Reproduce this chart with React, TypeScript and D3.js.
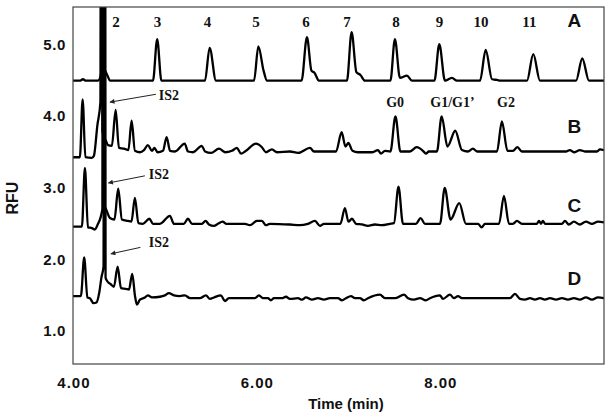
import React from "react";
import * as d3 from "d3";

// electropherogram traces, [time (min), RFU] vertices
const traceA: [number, number][] = [
  [3.99, 4.5], [4.065, 4.5], [4.098, 4.52], [4.131, 4.5], [4.262, 4.5], [4.301, 4.62],
  [4.312, 20], [4.323, 4.66], [4.34, 4.64], [4.355, 4.6], [4.37, 4.56], [4.393, 4.5],
  [4.862, 4.5], [4.908, 5.08], [4.954, 4.5],
  [5.429, 4.5], [5.48, 4.96], [5.549, 4.5],
  [5.964, 4.5], [6.011, 4.98], [6.068, 4.64], [6.106, 4.5],
  [6.482, 4.5], [6.541, 5.11], [6.59, 4.64], [6.623, 4.61], [6.672, 4.5],
  [6.977, 4.5], [7.028, 5.18], [7.08, 4.62], [7.124, 4.58], [7.173, 4.5],
  [7.451, 4.5], [7.5, 5.08], [7.555, 4.54], [7.631, 4.57], [7.686, 4.5],
  [7.931, 4.5], [7.984, 5.01], [8.046, 4.5], [8.122, 4.54], [8.177, 4.5],
  [8.428, 4.5], [8.49, 4.93], [8.559, 4.52], [8.613, 4.51], [8.656, 4.5],
  [8.94, 4.5], [9.009, 4.87], [9.082, 4.5],
  [9.475, 4.5], [9.543, 4.81], [9.616, 4.5], [9.78, 4.5],
];

const traceB: [number, number][] = [
  [3.99, 3.43], [4.065, 3.43], [4.095, 4.24], [4.125, 3.43], [4.196, 3.42], [4.218, 3.45],
  [4.256, 3.88], [4.289, 4.2], [4.3, 20], [4.311, 3.8], [4.33, 3.7], [4.349, 3.66],
  [4.371, 3.6], [4.414, 3.59], [4.455, 4.09], [4.491, 3.56], [4.545, 3.55], [4.594, 3.53],
  [4.629, 3.94], [4.665, 3.52], [4.72, 3.5], [4.764, 3.53], [4.807, 3.6], [4.851, 3.52],
  [4.878, 3.56], [4.911, 3.5], [4.971, 3.52], [5.011, 3.71], [5.048, 3.52], [5.102, 3.51],
  [5.208, 3.62], [5.244, 3.51], [5.299, 3.5], [5.394, 3.59], [5.43, 3.51], [5.495, 3.49],
  [5.582, 3.55], [5.648, 3.5], [5.723, 3.52], [5.778, 3.56], [5.822, 3.48], [5.876, 3.52],
  [5.985, 3.62], [6.05, 3.57], [6.094, 3.5], [6.159, 3.54], [6.214, 3.5], [6.356, 3.51],
  [6.443, 3.49], [6.574, 3.56], [6.618, 3.51], [6.858, 3.51], [6.919, 3.78], [6.961, 3.58],
  [6.993, 3.63], [7.037, 3.52], [7.097, 3.5], [7.25, 3.5], [7.315, 3.53], [7.348, 3.48],
  [7.391, 3.52], [7.451, 3.51], [7.506, 4.0], [7.56, 3.51], [7.664, 3.51], [7.737, 3.57],
  [7.806, 3.52], [7.838, 3.48], [7.871, 3.51], [7.958, 3.51], [8.01, 4.0], [8.073, 3.58],
  [8.158, 3.8], [8.231, 3.53], [8.296, 3.51], [8.351, 3.55], [8.395, 3.51], [8.613, 3.51],
  [8.667, 3.93], [8.727, 3.52], [8.787, 3.52], [8.836, 3.57], [8.885, 3.51], [9.365, 3.51],
  [9.408, 3.53], [9.452, 3.5], [9.517, 3.53], [9.572, 3.51], [9.703, 3.51], [9.736, 3.54],
  [9.78, 3.53],
];

const traceC: [number, number][] = [
  [3.99, 2.46], [4.087, 2.46], [4.12, 3.28], [4.153, 2.45], [4.196, 2.44], [4.229, 2.42],
  [4.256, 2.48], [4.31, 2.7], [4.321, 20], [4.332, 2.75], [4.345, 2.72], [4.393, 2.58],
  [4.442, 2.56], [4.483, 2.99], [4.523, 2.56], [4.589, 2.54], [4.627, 2.53], [4.665, 2.86],
  [4.703, 2.51], [4.752, 2.5], [4.823, 2.57], [4.862, 2.5], [4.938, 2.5], [5.047, 2.61],
  [5.09, 2.5], [5.199, 2.5], [5.243, 2.57], [5.287, 2.5], [5.396, 2.5], [5.436, 2.54],
  [5.472, 2.49], [5.527, 2.47], [5.57, 2.5], [5.622, 2.53], [5.659, 2.5], [5.865, 2.5],
  [5.919, 2.48], [5.996, 2.54], [6.05, 2.54], [6.094, 2.48], [6.137, 2.5], [6.356, 2.49],
  [6.465, 2.48], [6.552, 2.5], [6.628, 2.54], [6.683, 2.47], [6.726, 2.5], [6.906, 2.5],
  [6.955, 2.72], [6.993, 2.53], [7.032, 2.57], [7.076, 2.5], [7.141, 2.49], [7.206, 2.47],
  [7.282, 2.49], [7.359, 2.48], [7.446, 2.5], [7.49, 2.51], [7.539, 3.02], [7.588, 2.5],
  [7.73, 2.5], [7.781, 2.58], [7.828, 2.5], [7.992, 2.5], [8.043, 3.0], [8.107, 2.56],
  [8.202, 2.79], [8.275, 2.5], [8.406, 2.5], [8.446, 2.45], [8.482, 2.5], [8.635, 2.5],
  [8.689, 2.89], [8.744, 2.5], [8.787, 2.5], [8.831, 2.54], [8.885, 2.5], [9.049, 2.5],
  [9.071, 2.54], [9.093, 2.5], [9.114, 2.54], [9.136, 2.5], [9.321, 2.5], [9.354, 2.54],
  [9.397, 2.49], [9.452, 2.53], [9.517, 2.49], [9.583, 2.53], [9.649, 2.5], [9.714, 2.53],
  [9.78, 2.52],
];

const traceD: [number, number][] = [
  [3.99, 1.49], [4.076, 1.49], [4.112, 2.03], [4.147, 1.47], [4.174, 1.46], [4.213, 1.39],
  [4.245, 1.4], [4.278, 1.55], [4.3, 1.75], [4.323, 1.9], [4.334, 20], [4.345, 1.75],
  [4.362, 1.7], [4.398, 1.66], [4.436, 1.62], [4.477, 1.9], [4.513, 1.6], [4.567, 1.59],
  [4.6, 1.58], [4.636, 1.8], [4.665, 1.5], [4.687, 1.37], [4.72, 1.44], [4.774, 1.47],
  [4.807, 1.5], [4.851, 1.47], [4.938, 1.48], [4.992, 1.5], [5.035, 1.53], [5.09, 1.5],
  [5.155, 1.49], [5.21, 1.5], [5.265, 1.46], [5.374, 1.46], [5.439, 1.5], [5.483, 1.45],
  [5.527, 1.47], [5.603, 1.5], [5.647, 1.42], [5.69, 1.46], [5.974, 1.46], [6.017, 1.5],
  [6.061, 1.46], [6.116, 1.46], [6.148, 1.43], [6.181, 1.46], [6.268, 1.46], [6.312, 1.48],
  [6.356, 1.45], [6.443, 1.46], [6.487, 1.44], [6.53, 1.47], [6.596, 1.44], [6.661, 1.46],
  [6.726, 1.44], [6.791, 1.46], [6.879, 1.46], [6.923, 1.43], [6.966, 1.46], [7.021, 1.49],
  [7.064, 1.46], [7.119, 1.46], [7.162, 1.43], [7.206, 1.46], [7.337, 1.51], [7.391, 1.46],
  [7.5, 1.46], [7.599, 1.51], [7.643, 1.46], [7.708, 1.44], [7.773, 1.46], [7.838, 1.43],
  [7.882, 1.46], [7.991, 1.5], [8.024, 1.45], [8.1, 1.51], [8.144, 1.46], [8.188, 1.49],
  [8.231, 1.46], [8.755, 1.46], [8.809, 1.52], [8.864, 1.45], [8.918, 1.44], [8.973, 1.46],
  [9.027, 1.44], [9.082, 1.46], [9.136, 1.44], [9.191, 1.46], [9.257, 1.44], [9.322, 1.46],
  [9.387, 1.44], [9.452, 1.46], [9.517, 1.44], [9.583, 1.47], [9.649, 1.44], [9.714, 1.47],
  [9.78, 1.46],
];

const traces = [traceA, traceB, traceC, traceD];
const traceNames = ["A", "B", "C", "D"];
const traceNameLevels = [5.25, 3.77, 2.67, 1.64];
const traceNameTime = 9.458;

const xTicks = [4, 6, 8];
const yTicks = [1, 2, 3, 4, 5];

const peakNumbers = ["2", "3", "4", "5", "6", "7", "8", "9", "10", "11"];
const peakNumberTimes = [4.458, 4.911, 5.456, 5.985, 6.53, 6.977, 7.511, 7.986, 8.438, 8.967];
const peakNumberLevel = 5.25;

const glycanLabels = ["G0", "G1/G1\u2019", "G2"];
const glycanTimes = [7.503, 8.128, 8.711];
const glycanLevel = 4.13;

// IS2 callouts: label position, arrow start, arrow tip
const is2Label = [[5.036, 4.23], [4.927, 3.13], [4.927, 2.18]];
const is2From = [[4.894, 4.31], [4.774, 3.17], [4.725, 2.17]];
const is2To = [[4.393, 4.2], [4.376, 3.07], [4.403, 2.08]];

const App = () => {
  const width = 614;
  const height = 419;
  const margin = { top: 7, right: 10, bottom: 55, left: 73 };

  const x = d3.scaleLinear().domain([3.99, 9.78]).range([margin.left, width - margin.right]);
  const y = d3.scaleLinear().domain([0.54, 5.53]).range([height - margin.bottom, margin.top]);

  const line = d3
    .line<[number, number]>()
    .x((d) => x(d[0]))
    .y((d) => y(d[1]))
    .curve(d3.curveMonotoneX);

  const sans = "Liberation Sans, Arial, sans-serif";
  const serif = "Liberation Serif, Times New Roman, serif";
  const [x0, x1] = x.range();
  const [y0, y1] = y.range();

  return (
    <svg
      width={width}
      height={height}
      style={{ position: "absolute", left: 0, top: 0, background: "#fff" }}
    >
      <defs>
        <clipPath id="plot">
          <rect x={x0} y={y1} width={x1 - x0} height={y0 - y1} />
        </clipPath>
        <marker id="head" viewBox="0 0 10 10" refX="9" refY="5" markerWidth="7" markerHeight="5" orient="auto">
          <path d="M0,0 L10,5 L0,10 z" fill="#222" />
        </marker>
      </defs>

      <g clipPath="url(#plot)">
        {traces.map((tr, i) => (
          <path key={i} d={line(tr) ?? ""} fill="none" stroke="#000" strokeWidth={2.3} strokeLinejoin="round" />
        ))}
      </g>

      <rect x={x0} y={y1} width={x1 - x0} height={y0 - y1} fill="none" stroke="#444" strokeWidth={1.2} />

      {/* y ticks */}
      {yTicks.map((t) => (
        <text key={t} x={66} y={y(t) + 5} textAnchor="end" fontFamily={sans} fontWeight="bold" fontSize={15} letterSpacing={0.6} fill="#111">
          {t.toFixed(1)}
        </text>
      ))}
      {/* x ticks */}
      {xTicks.map((t) => (
        <text key={t} x={x(t)} y={388} textAnchor="middle" fontFamily={sans} fontWeight="bold" fontSize={15} letterSpacing={1} fill="#111">
          {t.toFixed(2)}
        </text>
      ))}

      <text x={346} y={409} textAnchor="middle" fontFamily={sans} fontWeight="bold" fontSize={15} fill="#111">
        Time (min)
      </text>
      <text transform={`translate(18,${y(2.86)}) rotate(-90)`} textAnchor="middle" fontFamily={sans} fontWeight="bold" fontSize={16} fill="#111">
        RFU
      </text>

      {peakNumbers.map((p, i) => (
        <text key={p} x={x(peakNumberTimes[i])} y={y(peakNumberLevel)} textAnchor="middle" fontFamily={serif} fontWeight="bold" fontSize={15} fill="#111">
          {p}
        </text>
      ))}

      {glycanLabels.map((g, i) => (
        <text key={g} x={x(glycanTimes[i])} y={y(glycanLevel)} textAnchor="middle" fontFamily={serif} fontWeight="bold" fontSize={14} fill="#111">
          {g}
        </text>
      ))}

      {traceNames.map((n, i) => (
        <text key={n} x={x(traceNameTime)} y={y(traceNameLevels[i])} textAnchor="middle" fontFamily={sans} fontWeight="bold" fontSize={19} fill="#111">
          {n}
        </text>
      ))}

      {is2Label.map((p, i) => (
        <g key={i}>
          <line
            x1={x(is2From[i][0])}
            y1={y(is2From[i][1])}
            x2={x(is2To[i][0])}
            y2={y(is2To[i][1])}
            stroke="#222"
            strokeWidth={1}
            markerEnd="url(#head)"
          />
          <text x={x(p[0])} y={y(p[1])} textAnchor="middle" fontFamily={serif} fontWeight="bold" fontSize={14} fill="#111">
            IS2
          </text>
        </g>
      ))}
    </svg>
  );
};

export default App;
